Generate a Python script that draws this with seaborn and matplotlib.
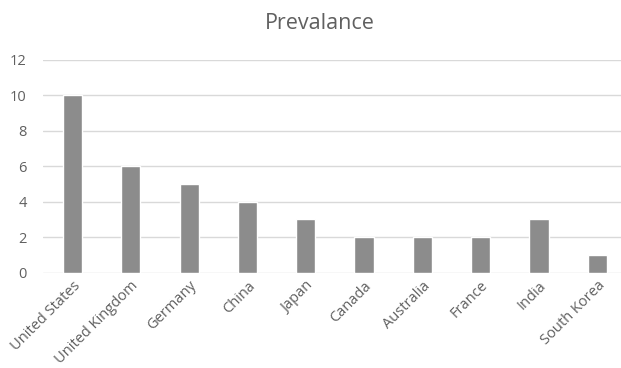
import matplotlib
matplotlib.use("Agg")
import matplotlib.pyplot as plt
import seaborn as sns
import pandas as pd

countries = ["United States", "United Kingdom", "Germany", "China", "Japan",
             "Canada", "Australia", "France", "India", "South Korea"]
prevalence = [10, 6, 5, 4, 3, 2, 2, 2, 3, 1]
y_ticks = [0, 2, 4, 6, 8, 10, 12]

sns.set_theme(style="white")
plt.rcParams["font.family"] = ["Open Sans", "DejaVu Sans"]

df = pd.DataFrame({"country": countries, "value": prevalence})

fig = plt.figure(figsize=(6.21, 3.68), dpi=100)
ax = fig.add_axes([43.4 / 621, 95.3 / 368, 583 / 621, 213 / 368])

sns.barplot(data=df, x="country", y="value", color="#8c8c8c", width=0.33,
            saturation=1, ax=ax, zorder=3)

ax.set_ylim(0, 12)
ax.set_yticks(y_ticks)
ax.set_yticklabels([str(t) for t in y_ticks], color="#606060", fontsize=10.5)
ax.yaxis.grid(True, color="#d9d9d9", linewidth=1)
ax.set_axisbelow(True)
for s in ax.spines.values():
    s.set_visible(False)
ax.tick_params(axis="both", length=0)
ax.tick_params(axis="y", pad=12)
ax.tick_params(axis="x", pad=4)
ax.set_xticks(range(len(countries)))
ax.set_xticklabels(countries, rotation=45, ha="right", rotation_mode="anchor",
                   color="#606060", fontsize=10.5)
ax.set_xlabel("")
ax.set_ylabel("")
ax.set_xlim(-0.5, len(countries) - 0.5)

fig.text(0.515, 0.935, "Prevalance", ha="center", va="center",
         fontsize=15.5, color="#606060")

fig.savefig("out.png", dpi=100)
